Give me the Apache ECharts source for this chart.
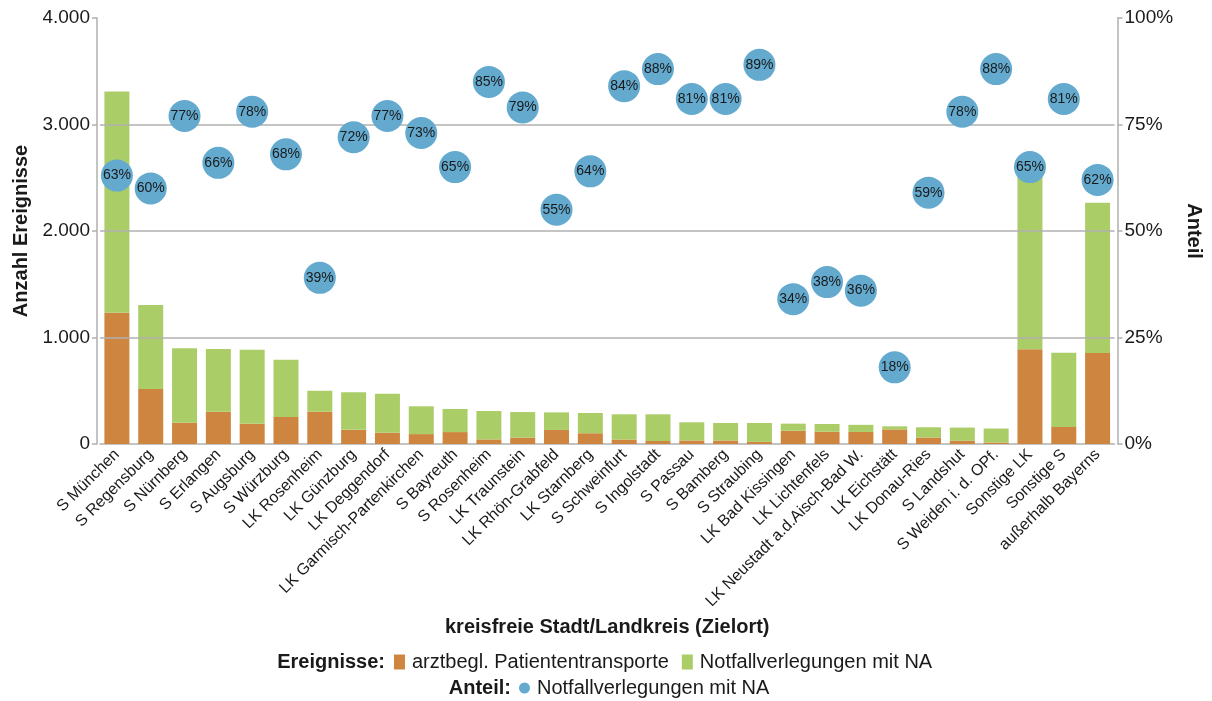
<!DOCTYPE html>
<html>
<head>
<meta charset="utf-8">
<script src="https://cdn.jsdelivr.net/npm/echarts@6/dist/echarts.min.js"></script>
<style>
html,body{margin:0;padding:0;background:#fff;}
#chart{width:1212px;height:701px;}
</style>
</head>
<body>
<div id="chart"></div>
<script>
const categories = ["S München","S Regensburg","S Nürnberg","S Erlangen","S Augsburg","S Würzburg","LK Rosenheim","LK Günzburg","LK Deggendorf","LK Garmisch-Partenkirchen","S Bayreuth","S Rosenheim","LK Traunstein","LK Rhön-Grabfeld","LK Starnberg","S Schweinfurt","S Ingolstadt","S Passau","S Bamberg","S Straubing","LK Bad Kissingen","LK Lichtenfels","LK Neustadt a.d.Aisch-Bad W.","LK Eichstätt","LK Donau-Ries","S Landshut","S Weiden i. d. OPf.","Sonstige LK","Sonstige S","außerhalb Bayerns"];
const arztbegl = [1233,516,200,303,190,254,303,133,105,93,112,43,60,132,101,42,28,33,33,20,124,115,113,137,61,30,14,889,160,855];
const notfall = [2077,789,699,589,696,538,197,352,367,261,217,267,240,165,190,237,251,171,164,177,67,73,67,29,96,124,131,1651,697,1411];
const anteil = [63,60,77,66,78,68,39,72,77,73,65,85,79,55,64,84,88,81,81,89,34,38,36,18,59,78,88,65,81,62];
const leftTicks = [0,1000,2000,3000,4000];
const gridValues = [1000,2000,3000];
const rightTicks = [0,25,50,75,100];

const FONT = '"Liberation Sans", Arial, sans-serif';
const chart = echarts.init(document.getElementById('chart'), null, {renderer:'canvas'});
const axisGray = '#b0b0b0';
const option = {
  animation:false,
  textStyle:{fontFamily:FONT},
  grid:{left:100,right:95,top:18,bottom:257,containLabel:false},
  xAxis:{
    type:'category', data:categories,
    axisLine:{lineStyle:{color:axisGray,width:1.5}},
    axisTick:{show:false},
    axisLabel:{rotate:45,interval:0,fontSize:16,color:'#1a1a1a',fontFamily:FONT,margin:8},
    name:'kreisfreie Stadt/Landkreis (Zielort)', nameLocation:'middle', nameGap:173,
    nameTextStyle:{fontSize:20,fontWeight:'bold',color:'#1a1a1a',fontFamily:FONT}
  },
  yAxis:[{
    type:'value', min:leftTicks[0], max:leftTicks[leftTicks.length-1], interval:1000, offset:3,
    axisLine:{show:true,lineStyle:{color:axisGray,width:1.5}},
    axisTick:{show:true,length:5,lineStyle:{color:axisGray,width:1.5}},
    splitLine:{show:false},
    axisLabel:{fontSize:19,color:'#1a1a1a',fontFamily:FONT,margin:7,
      formatter:v=>v.toLocaleString('de-DE')},
    name:'Anzahl Ereignisse', nameLocation:'middle', nameGap:66, nameRotate:90,
    nameTextStyle:{fontSize:20,fontWeight:'bold',color:'#1a1a1a',fontFamily:FONT}
  },{
    type:'value', min:rightTicks[0], max:rightTicks[rightTicks.length-1], interval:25, offset:3, position:'right',
    axisLine:{show:true,lineStyle:{color:axisGray,width:1.5}},
    axisTick:{show:true,length:5,lineStyle:{color:axisGray,width:1.5}},
    splitLine:{show:false},
    axisLabel:{fontSize:19,color:'#1a1a1a',fontFamily:FONT,margin:7,formatter:'{value}%'},
    name:'Anteil', nameLocation:'middle', nameGap:62, nameRotate:-90,
    nameTextStyle:{fontSize:20,fontWeight:'bold',color:'#1a1a1a',fontFamily:FONT}
  }],
  legend:[{
    data:['arztbegl. Patiententransporte','Notfallverlegungen mit NA'],
    left:394, top:652, padding:0, itemGap:13, itemWidth:11, itemHeight:15,
    icon:'rect',
    textStyle:{fontSize:20,color:'#1a1a1a',fontFamily:FONT,lineHeight:20,padding:[0,0,0,2]}
  },{
    data:[{name:'Anteil Notfallverlegungen mit NA', icon:'circle'}],
    left:519, top:678, padding:0, itemWidth:11, itemHeight:11,
    formatter:()=> 'Notfallverlegungen mit NA',
    textStyle:{fontSize:20,color:'#1a1a1a',fontFamily:FONT,lineHeight:20,padding:[0,0,0,2]}
  }],
  graphic:[
    {type:'text', x:385, y:662, style:{text:'Ereignisse:', font:'bold 20px '+FONT, fill:'#1a1a1a', align:'right', verticalAlign:'middle'}},
    {type:'text', x:511, y:688, style:{text:'Anteil:', font:'bold 20px '+FONT, fill:'#1a1a1a', align:'right', verticalAlign:'middle'}}
  ],
  series:[{
    name:'arztbegl. Patiententransporte', type:'bar', stack:'e', data:arztbegl, barWidth:25,
    itemStyle:{color:'#cd853f'},
    markLine:{silent:true, symbol:'none', label:{show:false},
      lineStyle:{color:axisGray,width:1.5,type:'solid'},
      data:gridValues.map(v=>({yAxis:v}))}
  },{
    name:'Notfallverlegungen mit NA', type:'bar', stack:'e', data:notfall, barWidth:25,
    itemStyle:{color:'#abcd68'}
  },{
    name:'Anteil Notfallverlegungen mit NA', type:'scatter', yAxisIndex:1, data:anteil, symbolSize:32, z:5,
    itemStyle:{color:'#64aacf',opacity:1},
    label:{show:true,position:'inside',formatter:p=>p.value+'%',fontSize:14,color:'#1a1a1a',fontFamily:FONT}
  }]
};
chart.setOption(option);
</script>
</body>
</html>
